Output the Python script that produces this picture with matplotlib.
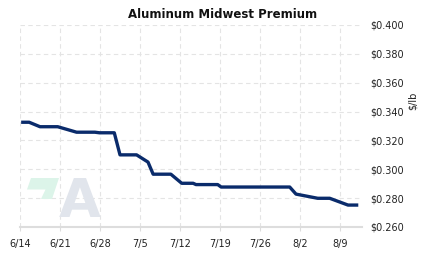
import matplotlib
matplotlib.use("Agg")
import matplotlib.pyplot as plt
from matplotlib.patches import Polygon

# Data (days since 6/14, $/lb)
days = [0.2, 1.6, 3.5, 6.6, 9.9, 13.1, 13.9, 16.5, 17.5, 20.4, 22.4, 23.3,
        26.4, 28.3, 30.3, 30.8, 34.6, 35.2, 47.2, 48.3, 52.1, 54.2, 57.4, 59.2]
values = [0.3326, 0.3326, 0.3295, 0.3295, 0.3257, 0.3257, 0.3253, 0.3253,
          0.3100, 0.3100, 0.3050, 0.2966, 0.2966, 0.2903, 0.2903, 0.2894,
          0.2894, 0.2877, 0.2877, 0.2828, 0.2799, 0.2799, 0.2752, 0.2752]
tick_days = [0, 7, 14, 21, 28, 35, 42, 49, 56]
tick_labels = ["6/14", "6/21", "6/28", "7/5", "7/12", "7/19", "7/26", "8/2", "8/9"]
y_ticks = [0.260, 0.280, 0.300, 0.320, 0.340, 0.360, 0.380, 0.400]

W, H = 423, 257
fig = plt.figure(figsize=(W / 100, H / 100), dpi=100)
ax = fig.add_axes([20 / W, 1 - 227 / H, (362 - 20) / W, (227 - 25) / H])

ax.set_xlim(0, 59.85)
ax.set_ylim(0.260, 0.400)

# watermark
pts = [(31, 178), (59, 178), (52, 199), (41, 199), (45.5, 189.5), (27, 189.5)]
green = Polygon([(x, H - y) for x, y in pts], closed=True, transform=None,
                facecolor="#dcf4e9", edgecolor="none", zorder=0)
fig.patches.append(green)
fig.text(80 / W, 1 - 217 / H, "A", fontsize=39, fontweight="bold", color="#e1e5ec",
         ha="center", va="baseline", zorder=0)

ax.plot(days, values, color="#0a2b6b", linewidth=2.4, solid_joinstyle="round",
        solid_capstyle="butt", zorder=3)

ax.set_xticks(tick_days)
ax.set_xticklabels(tick_labels)
ax.set_yticks(y_ticks)
ax.set_yticklabels(["$%.3f" % v for v in y_ticks])
ax.yaxis.tick_right()

ax.grid(True, color="#e4e4e4", linestyle=(0, (4, 3)), linewidth=0.8)
ax.set_axisbelow(True)
for s in ["top", "left", "right"]:
    ax.spines[s].set_visible(False)
ax.spines["bottom"].set_color("#dddddd")
ax.spines["bottom"].set_linewidth(1.5)
ax.patch.set_alpha(0)

ax.tick_params(axis="x", length=3, color="#dddddd", labelsize=7, labelcolor="#222222", pad=6)
ax.tick_params(axis="y", length=0, labelsize=7, labelcolor="#222222", pad=6)

fig.text(223 / W, 1 - 14 / H, "Aluminum Midwest Premium", ha="center", va="center",
         fontsize=8.5, fontweight="bold", color="#111111")
fig.text(413 / W, 1 - 101 / H, "$/lb", rotation=90, ha="center", va="center",
         fontsize=7, color="#222222")

fig.savefig("out.png", dpi=100)
